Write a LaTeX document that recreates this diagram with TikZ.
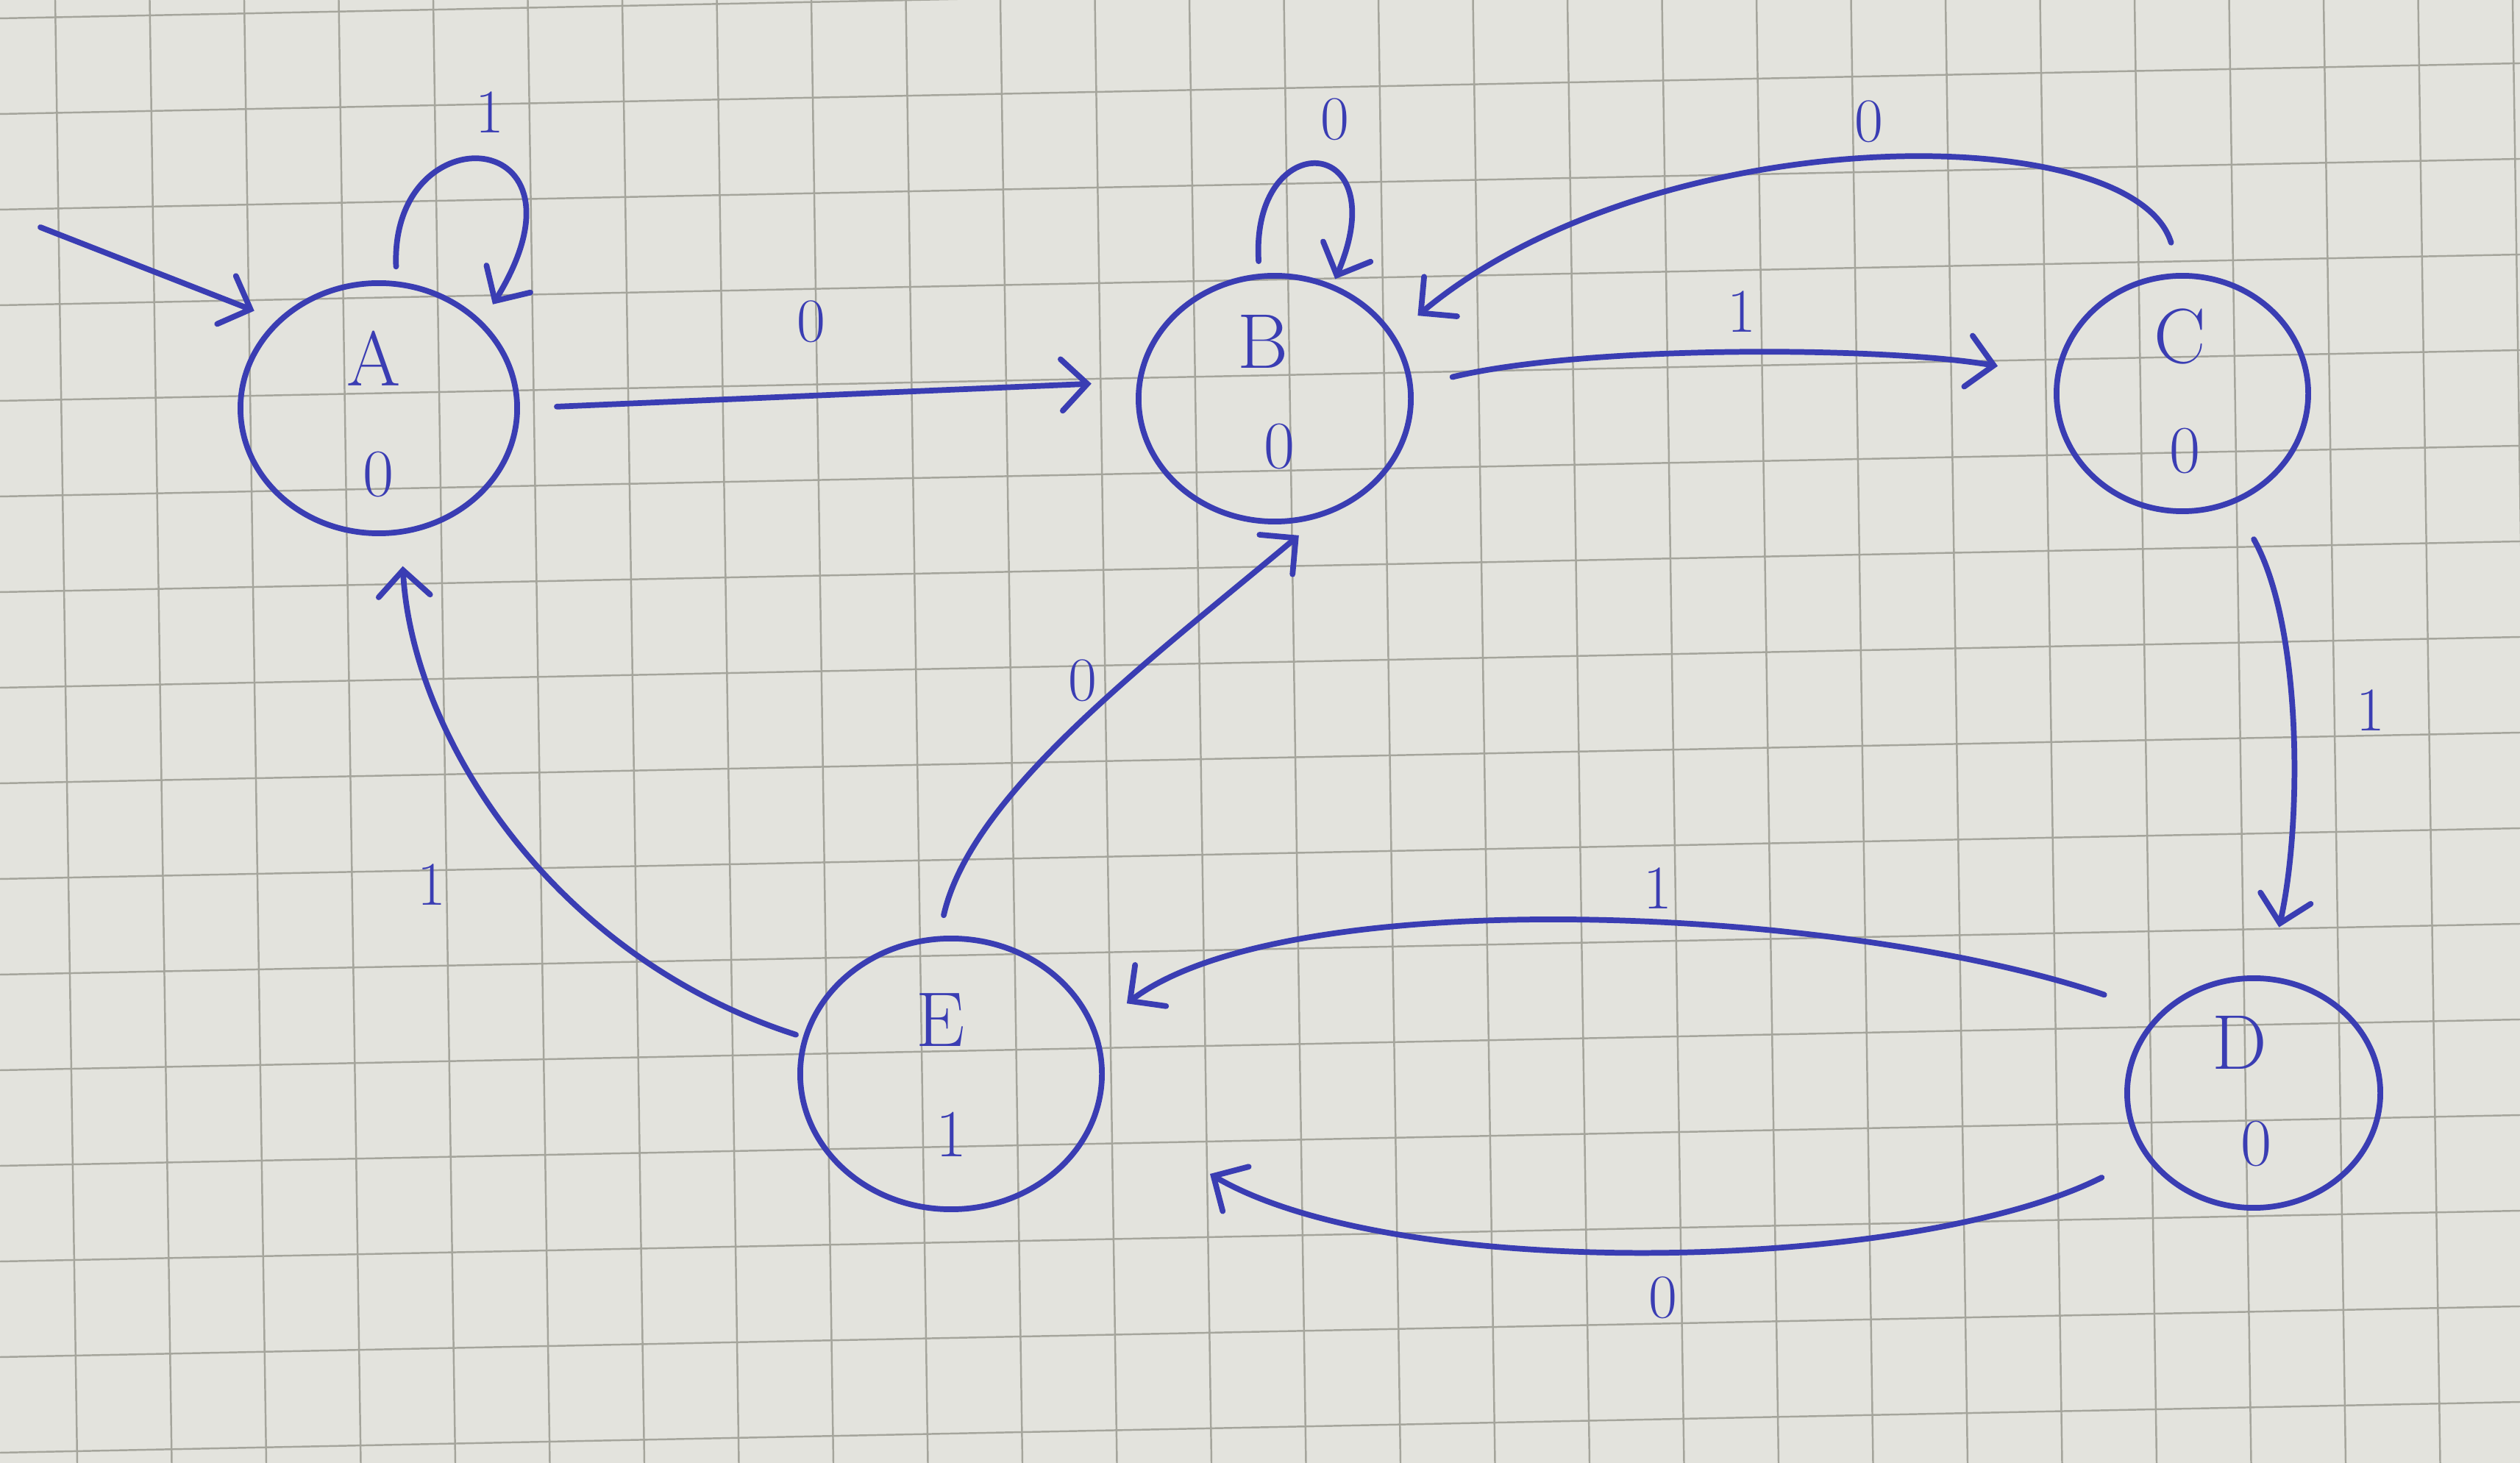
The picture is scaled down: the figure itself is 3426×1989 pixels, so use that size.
\documentclass[tikz,border=0pt]{standalone}
\usetikzlibrary{arrows.meta,shapes.geometric}
\definecolor{ink}{HTML}{3A3DB3}
\definecolor{paper}{HTML}{E3E3DD}
\definecolor{gridc}{HTML}{A5A59C}
\begin{document}
\begin{tikzpicture}[x=0.01cm,y=-0.01cm,
  state/.style={draw=ink,ellipse,line width=2.2pt,inner sep=0pt},
  conn/.style={draw=ink,line width=2.2pt,line cap=round,-{Straight Barb[length=3.5mm,width=7mm,line cap=round]}},
  sname/.style={text=ink,font=\fontsize{30}{34}\selectfont,inner sep=0pt},
  outv/.style={text=ink,font=\fontsize{26}{30}\selectfont,inner sep=0pt},
  lab/.style={text=ink,font=\fontsize{24}{28}\selectfont,inner sep=0pt},
  gridline/.style={draw=gridc,line width=0.7pt}]
\fill[paper] (0,0) rectangle (3426,1989);
\useasboundingbox (0,0) rectangle (3426,1989);
\begin{scope}
  \clip (0,0) rectangle (3426,1989);
  \foreach \k in {0,...,16} \draw[gridline] (0,{25+130*\k}) -- (3426,{25+130*\k-69});
  \foreach \k in {-1,...,27} \draw[gridline] ({75+128.5*\k},0) -- ({105+128.5*\k},1989);
\end{scope}

% states
\node[state,minimum width=3.76cm,minimum height=3.40cm] (A) at (515,555) {};
\node[state,minimum width=3.70cm,minimum height=3.34cm] (B) at (1733,542) {};
\node[state,minimum width=3.42cm,minimum height=3.20cm] (C) at (2967,535) {};
\node[state,minimum width=3.44cm,minimum height=3.12cm] (D) at (3064,1486) {};
\node[state,minimum width=4.10cm,minimum height=3.68cm] (E) at (1293,1460) {};

\node[sname] (An) at (508,487) {A};
\node[outv]  (Ao) at (514,645) {0};
\node[sname] (Bn) at (1717,464) {B};
\node[outv]  (Bo) at (1739,607) {0};
\node[sname] (Cn) at (2964,457) {C};
\node[outv]  (Co) at (2970,613) {0};
\node[sname] (Dn) at (3045,1417) {D};
\node[outv]  (Do) at (3067,1555) {0};
\node[sname] (En) at (1279,1387) {E};
\node[outv]  (Eo) at (1293,1542) {1};

% connectors
\coordinate (init) at (55,309);
\draw[conn,shorten >=0.33cm] (init) -- (A.139);
\draw[conn,shorten <=0.2cm,shorten >=0.27cm] (A.82) .. controls (530,150) and (820,170) .. (A.40);
\draw[conn,shorten <=0.5cm,shorten >=0.62cm] (A.0) -- (B.173);
\draw[conn,shorten <=0.17cm,shorten >=0.08cm] (B.97) .. controls (1700,170) and (1900,180) .. (B.63);
\draw[conn,shorten <=0.55cm,shorten >=0.79cm] (B.5) .. controls (2150,470) and (2550,470) .. (C.172);
\draw[conn,shorten <=0.43cm,shorten >=0.41cm] (C.91) .. controls (2900,160) and (2250,160) .. (B.28);
\draw[conn,shorten <=0.55cm,shorten >=0.68cm] (C.-65) .. controls (3130,850) and (3130,1120) .. (D.83);
\draw[conn,shorten <=0.78cm,shorten >=0.53cm] (D.140) .. controls (2500,1230) and (1750,1200) .. (E.18);
\coordinate (Etip) at ([shift={(352,136)}]E.center);
\draw[conn,shorten <=0.65cm] (D.210) .. controls (2600,1730) and (1900,1745) .. (Etip);
\draw[conn,shorten <=0.29cm,shorten >=0.38cm] (E.95) .. controls (1320,1080) and (1560,900) .. (B.-69);
\draw[conn,shorten <=0.1cm,shorten >=0.43cm] (E.166) .. controls (750,1300) and (560,1000) .. (A.-80);

% labels
\node[lab] (lAA) at (666,153) {1};
\node[lab] (lAB) at (1103,437) {0};
\node[lab] (lBB) at (1815,162) {0};
\node[lab] (lBC) at (2368,424) {1};
\node[lab] (lCB) at (2541,165) {0};
\node[lab] (lCD) at (3223,966) {1};
\node[lab] (lDE1) at (2254,1208) {1};
\node[lab] (lDE0) at (2261,1764) {0};
\node[lab] (lEB) at (1472,925) {0};
\node[lab] (lEA) at (587,1203) {1};
\end{tikzpicture}
\end{document}
